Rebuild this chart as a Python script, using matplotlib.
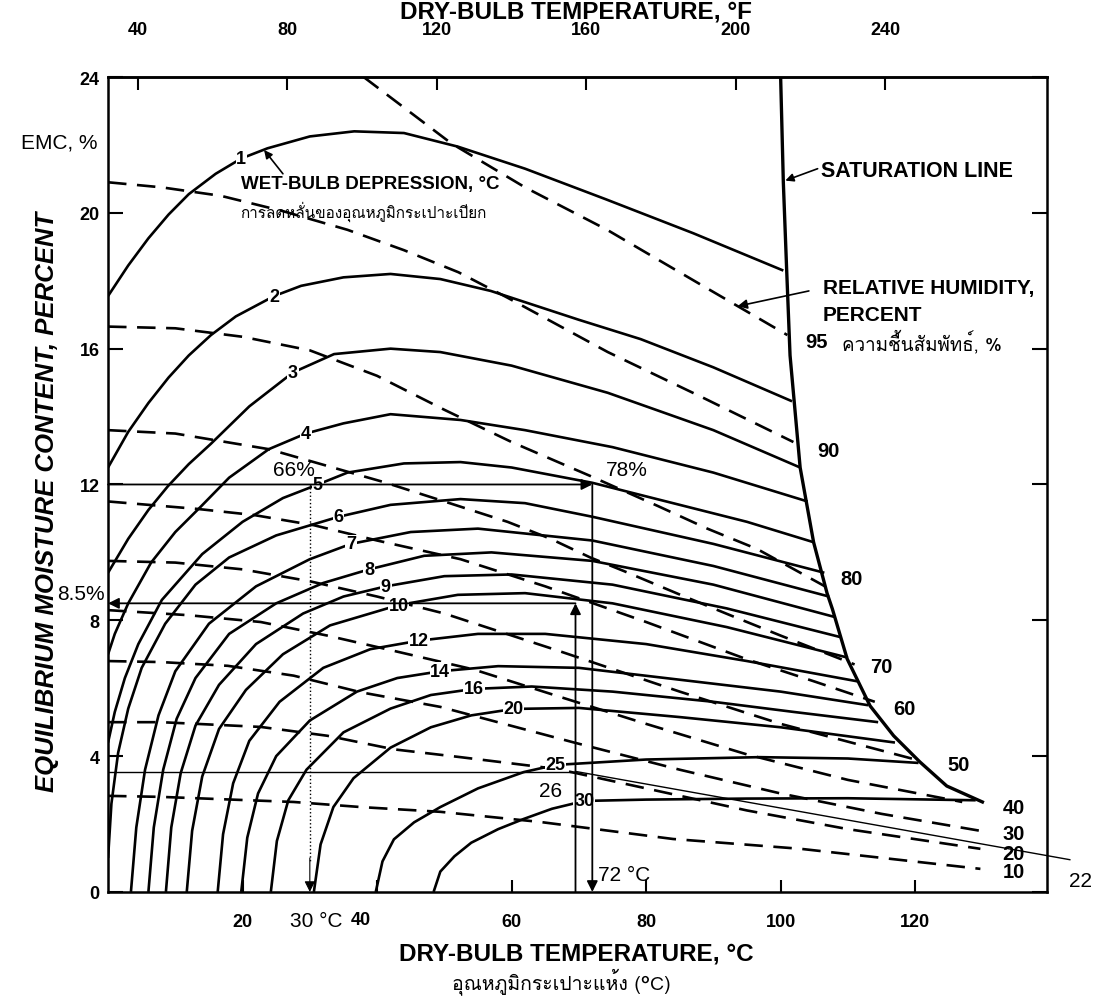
import matplotlib
matplotlib.use("Agg")
import matplotlib.pyplot as plt
from matplotlib import font_manager
from matplotlib.ft2font import FT2Font

# ---------------- fonts ----------------
thai_fam = None
for fe in font_manager.fontManager.ttflist:
    try:
        cmap = FT2Font(fe.fname).get_charmap()
    except Exception:
        continue
    if 0x0E01 in cmap:
        thai_fam = fe.name
        break
MAIN = 'Liberation Sans'
FAM = [MAIN, 'DejaVu Sans'] + ([thai_fam] if thai_fam else [])
THAI = ([thai_fam] if thai_fam else []) + ['DejaVu Sans']
plt.rcParams['font.family'] = FAM

# ---------------- data ----------------
wbd_labels = ['1', '2', '3', '4', '5', '6', '7', '8', '9', '10', '12', '14', '16', '20', '25', '30']
wbd_temp = [
    [0, 3, 6, 9, 12, 16, 19.8, 23.7, 30, 36.6, 44, 52, 62, 74, 87, 100.4],
    [0, 3, 6, 9, 12, 15.3, 19, 24.7, 28.7, 35, 42, 49.4, 56.9, 70, 79.2, 90, 101.7],
    [0, 3, 6, 8.9, 12, 15.3, 21, 27.5, 33.6, 42, 49.4, 60, 74.3, 90, 102.9],
    [0, 1, 3, 6.4, 10, 13.8, 18, 23.9, 29.4, 35, 42, 52.4, 62, 75, 90, 104],
    [0, 1, 2.5, 4.5, 8, 14, 20, 26, 31.2, 35.6, 44, 52.4, 60, 72, 85, 95, 104.9],
    [0, 0.5, 1.5, 3, 5, 8.5, 13, 18, 25, 34.3, 42, 52.4, 62, 72, 90, 106.5],
    [3.4, 4.2, 5.5, 7.5, 10, 15, 22, 30, 36.1, 45, 55, 72, 90, 107.2],
    [6, 6.8, 8.2, 10.2, 13, 18, 25, 32, 38.8, 47, 57, 72, 90, 108],
    [8.6, 9.4, 10.8, 13, 16.5, 22, 29, 35, 41.3, 50, 60, 75, 92, 109],
    [11.7, 12.5, 14, 16.5, 20.5, 26, 33, 43.2, 52, 62, 75, 92, 110],
    [16.3, 17.1, 18.6, 21, 25.5, 32, 39, 46.2, 55, 65, 80, 95, 111.5],
    [19.8, 20.7, 22.3, 25, 30, 37, 43, 49.4, 58, 70, 85, 100, 113],
    [24.2, 25.1, 26.8, 29.5, 35, 42, 48, 54.4, 63, 75, 90, 102, 114.5],
    [30.6, 31.6, 33.5, 36.5, 42, 48, 54, 60.3, 70, 85, 100, 117],
    [39.8, 40.8, 42.5, 45.5, 49.4, 55, 61.8, 66.5, 80, 96.9, 110, 120.5],
    [48.4, 49.4, 51.5, 54, 58, 61.8, 66, 70.8, 80, 95, 110, 129],
]
wbd_emc = [
    [17.55, 18.45, 19.25, 19.95, 20.55, 21.15, 21.6, 21.9, 22.25, 22.4, 22.35, 21.95, 21.3, 20.4, 19.4, 18.3],
    [12.5, 13.55, 14.4, 15.15, 15.8, 16.4, 16.95, 17.55, 17.85, 18.1, 18.2, 18.05, 17.7, 16.85, 16.28, 15.45, 14.45],
    [9.4, 10.4, 11.25, 11.95, 12.6, 13.2, 14.3, 15.3, 15.84, 16.0, 15.9, 15.5, 14.7, 13.6, 12.5],
    [7.0, 7.6, 8.5, 9.7, 10.6, 11.35, 12.2, 13.04, 13.5, 13.8, 14.07, 13.9, 13.6, 13.1, 12.35, 11.5],
    [4.4, 5.3, 6.3, 7.3, 8.6, 9.95, 10.9, 11.6, 12.0, 12.35, 12.62, 12.66, 12.5, 12.05, 11.4, 10.9, 10.3],
    [1.0, 2.6, 4.1, 5.4, 6.6, 7.9, 9.05, 9.85, 10.5, 11.05, 11.4, 11.57, 11.45, 11.05, 10.25, 9.4],
    [0, 1.9, 3.6, 5.2, 6.5, 7.9, 9.0, 9.8, 10.25, 10.6, 10.7, 10.35, 9.6, 8.7],
    [0, 1.9, 3.6, 5.1, 6.3, 7.6, 8.5, 9.1, 9.5, 9.9, 10.0, 9.75, 9.05, 8.1],
    [0, 1.9, 3.5, 4.9, 6.1, 7.3, 8.2, 8.7, 9.0, 9.3, 9.35, 9.05, 8.35, 7.5],
    [0, 1.8, 3.4, 4.8, 5.95, 7.0, 7.85, 8.45, 8.75, 8.8, 8.5, 7.8, 6.9],
    [0, 1.7, 3.2, 4.45, 5.6, 6.6, 7.15, 7.4, 7.6, 7.6, 7.3, 6.8, 6.2],
    [0, 1.6, 2.9, 4.0, 5.05, 5.9, 6.3, 6.5, 6.65, 6.6, 6.25, 5.9, 5.5],
    [0, 1.5, 2.7, 3.6, 4.7, 5.4, 5.8, 5.98, 6.05, 5.9, 5.6, 5.3, 5.0],
    [0, 1.4, 2.5, 3.35, 4.25, 4.85, 5.2, 5.39, 5.42, 5.15, 4.85, 4.4],
    [0, 0.9, 1.55, 2.05, 2.5, 3.05, 3.53, 3.74, 3.9, 3.97, 3.93, 3.8],
    [0, 0.6, 1.05, 1.45, 1.85, 2.15, 2.45, 2.68, 2.72, 2.75, 2.76, 2.7],
]
wbd_label_idx = [6, 7, 7, 8, 8, 9, 8, 8, 8, 7, 7, 7, 7, 7, 7, 7]

rh_labels = ['95', '90', '80', '70', '60', '50', '40', '30', '20', '10']
rh_temp = [
    [38, 51, 62, 74.2, 88, 101],
    [0, 8, 16.8, 26, 35.6, 44, 52.1, 59.4, 74.3, 88, 101.9],
    [0, 10, 20, 30, 40, 50, 60, 71.7, 81.7, 89.1, 96.5, 106.6],
    [0, 10, 23.9, 30.6, 41, 50, 59.4, 65.8, 71.7, 76.7, 85.1, 92.5, 100, 111],
    [0, 13.3, 21.7, 30.6, 40, 52.4, 65, 80, 95, 105, 114],
    [0, 10, 20, 30, 40, 50, 67, 85, 100, 121],
    [0, 12, 22.7, 32.6, 42.5, 54.4, 66.8, 80, 95, 110, 127],
    [0, 7.9, 17.8, 27.6, 37.6, 49.4, 69.3, 85, 100, 115, 129.7],
    [0, 7.9, 22.7, 32.6, 42.5, 52.4, 66.8, 80, 95, 110, 129.7],
    [0, 7.9, 27.6, 37.6, 49.4, 64.3, 84, 103, 129.7],
]
rh_emc = [
    [24, 22.05, 20.75, 19.5, 17.9, 16.4],
    [20.9, 20.75, 20.5, 20.05, 19.5, 18.9, 18.25, 17.5, 15.9, 14.6, 13.25],
    [16.65, 16.6, 16.35, 15.95, 15.2, 14.2, 13.25, 12.25, 11.37, 10.7, 10.1, 9.0],
    [13.6, 13.5, 13.04, 12.66, 12.07, 11.5, 10.9, 10.4, 9.85, 9.45, 8.75, 8.15, 7.55, 6.7],
    [11.5, 11.28, 11.1, 10.8, 10.35, 9.8, 9.0, 7.95, 6.85, 6.2, 5.6],
    [9.75, 9.7, 9.5, 9.15, 8.7, 8.2, 7.1, 5.9, 4.95, 3.85],
    [8.3, 8.15, 7.95, 7.55, 7.1, 6.55, 5.77, 4.95, 4.05, 3.3, 2.65],
    [6.8, 6.77, 6.66, 6.37, 5.88, 5.45, 4.4, 3.6, 2.9, 2.3, 1.8],
    [5.0, 5.0, 4.86, 4.6, 4.2, 3.97, 3.62, 3.05, 2.4, 1.85, 1.27],
    [2.83, 2.8, 2.65, 2.5, 2.36, 2.06, 1.56, 1.27, 0.68],
]
rh_label_temp = [103.7, 105.5, 108.9, 113.3, 116.7, 124.8, 133, 133, 133, 133]
rh_label_emc = [16.2, 12.99, 9.22, 6.65, 5.39, 3.74, 2.5, 1.71, 1.12, 0.59]

sat_temp = [100, 100.4, 100.9, 101.4, 102.9, 104.9, 106.9, 107.7, 109.9, 113.3, 116.8, 120.7, 124.7, 130]
sat_emc = [24, 20.9, 18.3, 15.8, 12.5, 10.3, 8.8, 8.33, 6.86, 5.48, 4.6, 3.83, 3.12, 2.65]

x_ticks_c = [20, 40, 60, 80, 100, 120]
x_ticklabels_c = ['20', '', '60', '80', '100', '120']
x_label40_pos = 37.6            # the "40" label sits left of its tick in the original
x_ticks_f = [40, 80, 120, 160, 200, 240]
y_ticks = [0, 4, 8, 12, 16, 20, 24]

# worked examples
ex1_temp = [0, 72]      # EMC 12 line, 66% @30C -> 78% @72C
ex1_emc = [12, 12]
ex1_drop_temp = [30, 72]
ex2_temp = [69.5, 0]    # 8.5 %
ex2_emc = [8.5, 8.5]
ex3_temp = [0, 69.5]
ex3_emc = [3.53, 3.53]
rh22_temp = [69.5, 143]
rh22_emc = [3.55, 0.95]

# ---------------- figure ----------------
fig = plt.figure(figsize=(10.97, 10.04), dpi=100)
ax = fig.add_axes([0.0985, 0.1106, 0.8559, 0.8117])
ax.set_xlim(0, 139.6)
ax.set_ylim(0, 24)

for s in ax.spines.values():
    s.set_linewidth(1.8)

LW = 1.9
for lab, t, e, li in zip(wbd_labels, wbd_temp, wbd_emc, wbd_label_idx):
    ax.plot(t, e, color='black', lw=LW, solid_capstyle='butt', solid_joinstyle='round', zorder=3)
    ax.text(t[li], e[li], lab, ha='center', va='center', fontsize=13, fontweight='bold',
            bbox=dict(fc='white', ec='none', pad=0.5), zorder=6)

for lab, t, e, lt, le in zip(rh_labels, rh_temp, rh_emc, rh_label_temp, rh_label_emc):
    ax.plot(t, e, color='black', lw=1.9, linestyle=(0, (7, 4)), zorder=3)
    ax.text(lt, le, lab, ha='left', va='center', fontsize=14.5, fontweight='bold', clip_on=False, zorder=6)

ax.plot(sat_temp, sat_emc, color='black', lw=2.4, zorder=4)

# worked example lines
thin = 1.3
ax.annotate('', xy=(ex1_temp[1], ex1_emc[1]), xytext=(ex1_temp[0], ex1_emc[0]),
            arrowprops=dict(arrowstyle='-|>', color='black', lw=thin, mutation_scale=16, shrinkA=0, shrinkB=0), zorder=7)
ax.annotate('', xy=(ex1_drop_temp[1], 0), xytext=(ex1_drop_temp[1], 12),
            arrowprops=dict(arrowstyle='-|>', color='black', lw=thin, mutation_scale=16, shrinkA=0, shrinkB=0), zorder=7)
ax.plot([ex1_drop_temp[0], ex1_drop_temp[0]], [12, 0.9], color='black', lw=1.0, linestyle=':', zorder=7)
ax.annotate('', xy=(ex1_drop_temp[0], 0), xytext=(ex1_drop_temp[0], 1.0),
            arrowprops=dict(arrowstyle='-|>', color='black', lw=0.8, mutation_scale=16, shrinkA=0, shrinkB=0), zorder=7)
ax.annotate('', xy=(ex2_temp[0], ex2_emc[0]), xytext=(ex2_temp[0], 0),
            arrowprops=dict(arrowstyle='-|>', color='black', lw=thin, mutation_scale=16, shrinkA=0, shrinkB=0), zorder=7)
ax.annotate('', xy=(ex2_temp[1], ex2_emc[1]), xytext=(ex2_temp[0], ex2_emc[0]),
            arrowprops=dict(arrowstyle='-|>', color='black', lw=thin, mutation_scale=16, shrinkA=0, shrinkB=0), zorder=7)
ax.plot(ex3_temp, ex3_emc, color='black', lw=1.0, zorder=7)
ax.plot(rh22_temp, rh22_emc, color='black', lw=1.0, zorder=7, clip_on=False)

reg = dict(fontsize=15, fontweight='normal', family=['Liberation Sans', 'DejaVu Sans'])
ax.text(27.6, 12.45, '66%', ha='center', va='center', zorder=8, **reg)
ax.text(77.2, 12.45, '78%', ha='center', va='center', zorder=8, **reg)
ax.text(76.8, 0.5, '72 °C', ha='center', va='center', zorder=8, **reg)
ax.text(30.9, -0.85, '30 °C', ha='center', va='center', clip_on=False, **reg)
ax.text(-4.0, 8.8, '8.5%', ha='center', va='center', clip_on=False, **reg)
ax.text(-7.2, 22.1, 'EMC, %', ha='center', va='center', clip_on=False, **reg)
ax.text(144.6, 0.35, '22', ha='center', va='center', clip_on=False, **reg)
ax.text(65.8, 3.0, '26', ha='center', va='center', zorder=8, **reg)

# callouts
ax.text(19.8, 20.85, 'WET-BULB DEPRESSION, °C', ha='left', va='center', zorder=8, fontsize=13.5,
        fontweight='bold', bbox=dict(fc='white', ec='none', pad=0.3))
ax.text(19.6, 20.05, 'การลดหลั่นของอุณหภูมิกระเปาะเปียก', ha='left', va='center', fontsize=11,
        family=THAI, zorder=8)
ax.annotate('', xy=(23.2, 21.85), xytext=(26.0, 21.15),
            arrowprops=dict(arrowstyle='-|>', color='black', lw=1.2, mutation_scale=12, shrinkA=0, shrinkB=0))
ax.text(106.0, 21.25, 'SATURATION LINE', ha='left', va='center', fontsize=15.5, fontweight='bold')
ax.annotate('', xy=(100.7, 20.95), xytext=(105.5, 21.3),
            arrowprops=dict(arrowstyle='-|>', color='black', lw=1.2, mutation_scale=12, shrinkA=0, shrinkB=0))
ax.text(106.3, 17.8, 'RELATIVE HUMIDITY,', ha='left', va='center', fontsize=15, fontweight='bold')
ax.text(106.3, 17.0, 'PERCENT', ha='left', va='center', fontsize=15, fontweight='bold')
ax.text(109.1, 16.2, 'ความชื้นสัมพัทธ์, %', ha='left', va='center', fontsize=13.5, family=THAI)
ax.annotate('', xy=(93.6, 17.25), xytext=(104.2, 17.7),
            arrowprops=dict(arrowstyle='-|>', color='black', lw=1.2, mutation_scale=14, shrinkA=0, shrinkB=0))

# ticks
ax.set_xticks(x_ticks_c)
ax.set_xticklabels(x_ticklabels_c, fontsize=13, fontweight='bold')
ax.text(x_label40_pos, -0.8, '40', ha='center', va='center', fontsize=13, fontweight='bold', clip_on=False)
ax.set_yticks(y_ticks)
ax.set_yticklabels([str(v) for v in y_ticks], fontsize=13, fontweight='bold')
ax.tick_params(axis='x', direction='in', length=9, width=1.5, pad=15, top=False)
ax.tick_params(axis='y', direction='in', length=11, width=1.5, pad=6, right=True)

sec = ax.secondary_xaxis('top', functions=(lambda c: c * 1.8 + 32, lambda f: (f - 32) / 1.8))
sec.set_xticks(x_ticks_f)
sec.set_xticklabels([str(v) for v in x_ticks_f], fontsize=13, fontweight='bold')
sec.tick_params(direction='in', length=9, width=1.5, pad=28)
sec.spines['top'].set_linewidth(1.8)

fig.text(0.525, 0.988, 'DRY-BULB TEMPERATURE, °F', ha='center', va='center', fontsize=17.5, fontweight='bold')
fig.text(0.525, 0.050, 'DRY-BULB TEMPERATURE, °C', ha='center', va='center', fontsize=17.5, fontweight='bold')
fig.text(0.512, 0.022, 'อุณหภูมิกระเปาะแห้ง (°C)', ha='center', va='center', fontsize=14, family=THAI)
fig.text(0.043, 0.5, 'EQUILIBRIUM MOISTURE CONTENT, PERCENT', rotation=90, ha='center', va='center',
         fontsize=18.5, fontweight='bold', style='italic')

fig.savefig('out.png', dpi=100)
